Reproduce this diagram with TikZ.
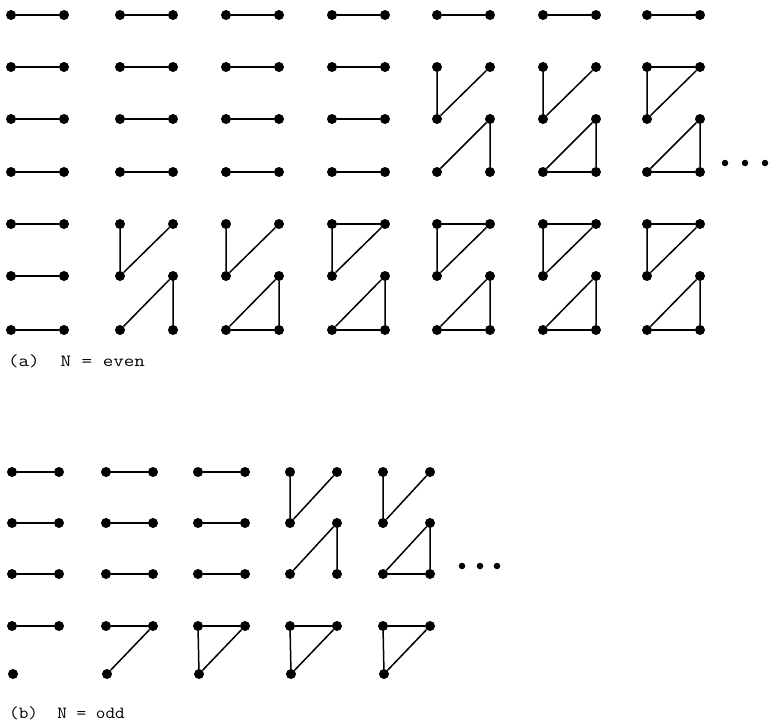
\documentclass[tikz,border=0pt]{standalone}
\usepackage{graphicx}
\usepackage{tikz}
\usetikzlibrary{positioning}

\begin{document}
\begin{tikzpicture}[x=1pt,y=-1pt,
  dot/.style={circle,fill=black,inner sep=0pt,minimum size=10pt},
  tinydot/.style={circle,fill=black,inner sep=0pt,minimum size=6.5pt},
  bond/.style={line width=1.5pt},
  caption/.style={anchor=base west,inner sep=0pt,font=\fontsize{17}{20}\selectfont\ttfamily}]
\useasboundingbox (0,0) rectangle (769,723);

% (a) N even
\foreach \c/\x in {1/11,2/120,3/226,4/332,5/437,6/543,7/647}
  \foreach \r/\y in {1/15,2/67,3/119,4/172,5/224,6/276,7/330} {
    \node[dot] (a\c L\r) at (\x,\y) {};
    \node[dot] (a\c R\r) at (\x+53,\y) {};
  }

\foreach \c in {1,...,4}
  \foreach \r in {1,...,4} \draw[bond] (a\c L\r) -- (a\c R\r);
\foreach \r in {5,6,7} \draw[bond] (a1L\r) -- (a1R\r);
\foreach \c in {5,6,7} \draw[bond] (a\c L1) -- (a\c R1);

\foreach \c/\p/\q/\u in {2/5/6/7,3/5/6/7,4/5/6/7,5/2/3/4,5/5/6/7,6/2/3/4,6/5/6/7,7/2/3/4,7/5/6/7} {
  \draw[bond] (a\c L\p) -- (a\c L\q) -- (a\c R\p);
  \draw[bond] (a\c L\u) -- (a\c R\q) -- (a\c R\u);
}
\foreach \c/\u in {3/7,4/7,5/7,6/4,6/7,7/4,7/7} \draw[bond] (a\c L\u) -- (a\c R\u);
\foreach \c/\p in {4/5,5/5,6/5,7/2,7/5} \draw[bond] (a\c L\p) -- (a\c R\p);

\foreach \i/\x in {1/725,2/745,3/765} \node[tinydot] (adot\i) at (\x,163) {};

\node[caption] (alabel) at (8,366) {\scalebox{1.2}[1]{(a)\ \ N = even}};

% (b) N odd
\foreach \c/\x in {1/12,2/106,3/198,4/290,5/383} {
  \foreach \r/\y in {1/472,2/523,3/574,4/626} {
    \node[dot] (b\c L\r) at (\x,\y) {};
    \node[dot] (b\c R\r) at (\x+47,\y) {};
  }
  \node[dot] (b\c L5) at (\x+1,674) {};
}

\foreach \c in {1,2,3}
  \foreach \r in {1,2,3} \draw[bond] (b\c L\r) -- (b\c R\r);
\foreach \c in {1,...,5} \draw[bond] (b\c L4) -- (b\c R4);
\draw[bond] (b2R4) -- (b2L5);
\foreach \c in {3,4,5} \draw[bond] (b\c L4) -- (b\c L5) -- (b\c R4);
\foreach \c in {4,5} {
  \draw[bond] (b\c L1) -- (b\c L2) -- (b\c R1);
  \draw[bond] (b\c L3) -- (b\c R2) -- (b\c R3);
}
\draw[bond] (b5L3) -- (b5R3);

\foreach \i/\x in {1/462,2/480,3/497} \node[tinydot] (bdot\i) at (\x,566) {};

\node[caption] (blabel) at (9,718) {\scalebox{1.1}[1]{(b)\ \ N = odd}};
\end{tikzpicture}
\end{document}
